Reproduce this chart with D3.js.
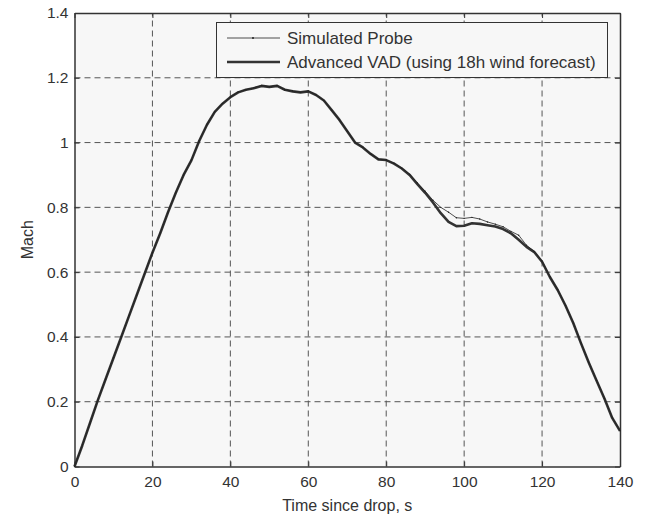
<!DOCTYPE html>
<html>
<head>
<meta charset="utf-8">
<script src="https://cdn.jsdelivr.net/npm/d3@7"></script>
<style>
  body { margin: 0; background: #fff; }
  svg { font-family: 'Liberation Sans', Arial, sans-serif; }
</style>
</head>
<body>
<div id="chart"></div>
<script>
// time since drop (s)
const times = [0, 2, 4, 6, 8, 10, 12, 14, 16, 18, 20, 22, 24, 26, 28, 30, 32, 34, 36, 38,
    40, 42, 44, 46, 48, 50, 52, 54, 56, 58, 60, 62, 64, 66, 68, 70, 72, 74, 76, 78,
    80, 82, 84, 86, 88, 90, 92, 94, 96, 98, 100, 102, 104, 106, 108, 110, 112, 114, 116, 118,
    120, 122, 124, 126, 128, 130, 132, 134, 136, 138, 140];

// Advanced VAD mach
const vadMach = [0.0, 0.065, 0.135, 0.205, 0.27, 0.335, 0.40, 0.465, 0.53, 0.595, 0.66, 0.72, 0.785, 0.845, 0.90, 0.945, 1.005, 1.055, 1.095, 1.12,
    1.14, 1.155, 1.163, 1.168, 1.175, 1.172, 1.175, 1.163, 1.158, 1.155, 1.158, 1.147, 1.13, 1.10, 1.07, 1.035, 1.0, 0.985, 0.965, 0.948,
    0.946, 0.935, 0.92, 0.90, 0.872, 0.845, 0.815, 0.782, 0.755, 0.742, 0.743, 0.751, 0.749, 0.745, 0.741, 0.733, 0.72, 0.70, 0.678, 0.662,
    0.632, 0.585, 0.545, 0.497, 0.443, 0.38, 0.32, 0.265, 0.21, 0.15, 0.11];

// Simulated probe mach
const probeMach = [0.0, 0.066, 0.134, 0.206, 0.27, 0.336, 0.40, 0.466, 0.53, 0.596, 0.66, 0.721, 0.785, 0.846, 0.90, 0.946, 1.005, 1.056, 1.095, 1.121,
    1.14, 1.156, 1.163, 1.169, 1.176, 1.172, 1.176, 1.163, 1.159, 1.155, 1.159, 1.147, 1.13, 1.10, 1.07, 1.036, 1.0, 0.986, 0.965, 0.949,
    0.946, 0.936, 0.921, 0.902, 0.875, 0.85, 0.822, 0.80, 0.785, 0.768, 0.766, 0.769, 0.764, 0.755, 0.748, 0.740, 0.726, 0.714, 0.683, 0.664,
    0.634, 0.586, 0.546, 0.498, 0.444, 0.381, 0.321, 0.266, 0.211, 0.151, 0.11];

const xTicks = [0, 20, 40, 60, 80, 100, 120, 140];
const yTicks = [0, 0.2, 0.4, 0.6, 0.8, 1, 1.2, 1.4];

const seriesNames = ['Simulated Probe', 'Advanced VAD (using 18h wind forecast)'];

let width = 646;
let height = 521;
let margin = ({ top: 13, right: 26, bottom: 55, left: 74.5 });
let ink = '#333';

let svg = d3.select('#chart')
    .append('svg')
    .attr('width', width)
    .attr('height', height);

let x = d3.scaleLinear()
    .domain([0, 140])
    .range([margin.left, width - margin.right]);

let y = d3.scaleLinear()
    .domain([0, 1.4])
    .range([height - margin.bottom + 0.5, margin.top]);

// plot background
svg.append('rect')
    .attr('x', x(0))
    .attr('y', y(1.4))
    .attr('width', x(140) - x(0))
    .attr('height', y(0) - y(1.4))
    .attr('fill', '#f7f7f7');

// grid
svg.append('g')
    .selectAll('line')
    .data(xTicks.slice(1, -1))
    .enter()
    .append('line')
    .attr('x1', d => x(d)).attr('x2', d => x(d))
    .attr('y1', y(0)).attr('y2', y(1.4))
    .attr('stroke', '#555')
    .attr('stroke-width', 1)
    .attr('stroke-dasharray', '6,4');

svg.append('g')
    .selectAll('line')
    .data(yTicks.slice(1, -1))
    .enter()
    .append('line')
    .attr('x1', x(0)).attr('x2', x(140))
    .attr('y1', d => y(d)).attr('y2', d => y(d))
    .attr('stroke', '#555')
    .attr('stroke-width', 1)
    .attr('stroke-dasharray', '6,4');

// axes
let xAxis = g => g
    .attr('transform', `translate(0,${y(0)})`)
    .call(d3.axisBottom(x).tickValues(xTicks).tickSizeInner(-5).tickSizeOuter(0).tickPadding(9));

let yAxis = g => g
    .attr('transform', `translate(${x(0)},0)`)
    .call(d3.axisLeft(y).tickValues(yTicks).tickFormat(d3.format('~g')).tickSizeInner(-5).tickSizeOuter(0).tickPadding(6));

let xTop = g => g
    .attr('transform', `translate(0,${y(1.4)})`)
    .call(d3.axisTop(x).tickValues(xTicks).tickSizeInner(-5).tickSizeOuter(0).tickFormat(''));

let yRight = g => g
    .attr('transform', `translate(${x(140)},0)`)
    .call(d3.axisRight(y).tickValues(yTicks).tickSizeInner(-5).tickSizeOuter(0).tickFormat(''));

[xAxis, yAxis, xTop, yRight].forEach(a => {
    let g = svg.append('g').call(a);
    g.select('.domain').attr('stroke', ink).attr('stroke-width', 1.5);
    g.selectAll('.tick line').attr('stroke', ink);
    g.selectAll('.tick text')
        .attr('fill', '#333')
        .style('font-size', '15.5px')
        .style('font-family', "'Liberation Sans', Arial, sans-serif");
});

// lines
let vadData = times.map((t, i) => [t, vadMach[i]]);
let probeData = times.map((t, i) => [t, probeMach[i]]);

let line = d3.line()
    .x(d => x(d[0]))
    .y(d => y(d[1]));

svg.append('path')
    .datum(vadData)
    .attr('fill', 'none')
    .attr('stroke', ink)
    .attr('stroke-width', 2.6)
    .attr('stroke-linejoin', 'round')
    .attr('d', line);

svg.append('path')
    .datum(probeData)
    .attr('fill', 'none')
    .attr('stroke', '#222')
    .attr('stroke-width', 0.8)
    .attr('d', line);

svg.append('g')
    .selectAll('circle')
    .data(probeData)
    .enter()
    .append('circle')
    .attr('cx', d => x(d[0]))
    .attr('cy', d => y(d[1]))
    .attr('r', 0.7)
    .attr('fill', '#222');

// legend
let lg = svg.append('g');
lg.append('rect')
    .attr('x', 216.5)
    .attr('y', 22.5)
    .attr('width', 391)
    .attr('height', 55)
    .attr('fill', '#f7f7f7')
    .attr('stroke', ink)
    .attr('stroke-width', 1);

lg.append('line')
    .attr('x1', 227).attr('x2', 280)
    .attr('y1', 38).attr('y2', 38)
    .attr('stroke', '#222').attr('stroke-width', 0.8);
lg.append('circle')
    .attr('cx', 253).attr('cy', 38).attr('r', 1)
    .attr('fill', '#222');
lg.append('line')
    .attr('x1', 227).attr('x2', 280)
    .attr('y1', 62).attr('y2', 62)
    .attr('stroke', ink).attr('stroke-width', 2.6);

lg.selectAll('text')
    .data(seriesNames)
    .enter()
    .append('text')
    .attr('x', 287)
    .attr('y', (d, i) => 44 + i * 24)
    .attr('fill', '#333')
    .style('font-size', '17px')
    .text(d => d);

// axis titles
svg.append('text')
    .attr('fill', '#333')
    .attr('x', x(70))
    .attr('y', 511)
    .attr('text-anchor', 'middle')
    .style('font-size', '16px')
    .text('Time since drop, s');

svg.append('text')
    .attr('fill', '#333')
    .attr('text-anchor', 'middle')
    .attr('transform', `translate(33,${y(0.7)}) rotate(270)`)
    .style('font-size', '16px')
    .text('Mach');
</script>
</body>
</html>
